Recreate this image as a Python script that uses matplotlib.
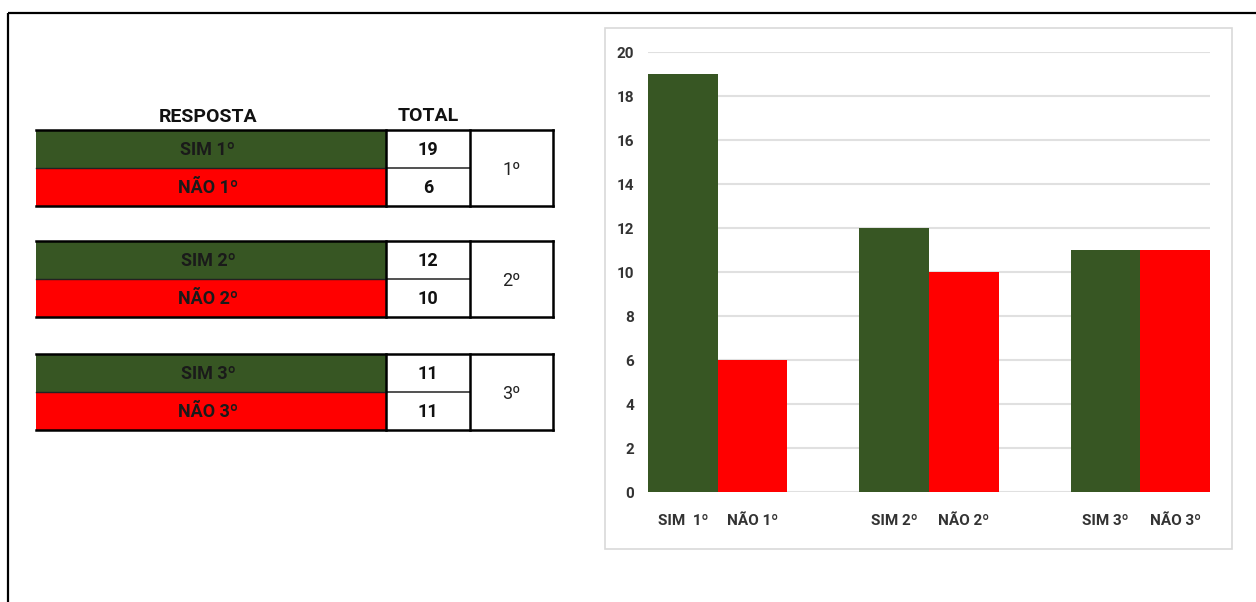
import matplotlib
matplotlib.use("Agg")
import matplotlib.pyplot as plt
from matplotlib.patches import Rectangle
import numpy as np

# Data
respostas = ["SIM  1º", "NÃO 1º", "SIM 2º", "NÃO 2º", "SIM 3º", "NÃO 3º"]
totais = [19, 6, 12, 10, 11, 11]
grupos = ["1º", "2º", "3º"]
sim = [19, 12, 11]
nao = [6, 10, 11]

GREEN = "#375623"
RED = "#ff0000"
FONT = ["Roboto", "DejaVu Sans"]

W, H = 1256, 602
fig = plt.figure(figsize=(W / 100, H / 100), dpi=100)

# Full-figure pixel axes for the table and frames
bg = fig.add_axes([0, 0, 1, 1])
bg.set_xlim(0, W)
bg.set_ylim(H, 0)
bg.axis("off")

# Outer border (top and left visible)
bg.plot([8, W], [13, 13], color="black", lw=1.6, solid_capstyle="butt")
bg.plot([8, 8], [13, H], color="black", lw=1.6, solid_capstyle="butt")

# Chart frame
bg.add_patch(Rectangle((605, 28), 627, 521, fill=False, ec="#d9d9d9", lw=1.2))

# Table
x0, x1, x2, x3 = 36, 386, 470, 553
tops = [130, 241, 354]
rh = 38
bg.text((x0 + x1) / 2 - 3, 117, "RESPOSTA", ha="center", va="center",
        fontsize=14, fontweight="bold", family=FONT, color="#111111")
bg.text((x1 + x2) / 2, 116, "TOTAL", ha="center", va="center",
        fontsize=14, fontweight="bold", family=FONT, color="#111111")

for g, top in enumerate(tops):
    for r in range(2):
        i = g * 2 + r
        y = top + r * rh
        bg.add_patch(Rectangle((x0, y), x1 - x0, rh,
                               fc=GREEN if r == 0 else RED, ec="none"))
        bg.text((x0 + x1) / 2 - 3, y + rh / 2 + 1, respostas[i].replace("  ", " "),
                ha="center", va="center", fontsize=13, fontweight="bold",
                family=FONT, color="#1a1a1a")
        bg.add_patch(Rectangle((x1, y), x2 - x1, rh, fc="white", ec="none"))
        bg.text((x1 + x2) / 2, y + rh / 2 + 1, str(totais[i]),
                ha="center", va="center", fontsize=13, fontweight="bold",
                family=FONT, color="#111111")
    # lines
    bot = top + 2 * rh
    bg.plot([x0, x3], [top, top], color="black", lw=1.8)
    bg.plot([x0, x3], [bot, bot], color="black", lw=1.8)
    bg.plot([x0, x1], [top + rh, top + rh], color="#222222", lw=1.0)
    bg.plot([x1, x2], [top + rh, top + rh], color="#333333", lw=1.2)
    for xx in (x1, x2, x3):
        bg.plot([xx, xx], [top, bot], color="black", lw=1.8)
    bg.text((x2 + x3) / 2, top + rh + 2, grupos[g], ha="center", va="center",
            fontsize=13, family=FONT, color="#222222")

# Bar chart
ax = fig.add_axes([648 / W, 1 - 492 / H, 562 / W, 440 / H])
pos = np.arange(len(grupos))
w = 0.33
ax.bar(pos - w / 2, sim, width=w, color=GREEN, zorder=3)
ax.bar(pos + w / 2, nao, width=w, color=RED, zorder=3)
ax.set_xlim(-w, len(grupos) - 1 + w)
ax.set_ylim(0, 20)
ax.set_yticks(np.arange(0, 21, 2))
ax.grid(axis="y", color="#e0e0e0", lw=1.5, zorder=0)
for s in ax.spines.values():
    s.set_visible(False)
xt = np.ravel(np.column_stack([pos - w / 2, pos + w / 2]))
ax.set_xticks(xt)
ax.set_xticklabels(respostas)
ax.tick_params(axis="both", length=0)
ax.tick_params(axis="y", pad=10)
ax.tick_params(axis="x", pad=16)
for lbl in ax.get_xticklabels() + ax.get_yticklabels():
    lbl.set_family(FONT)
    lbl.set_fontweight("bold")
    lbl.set_fontsize(11)
    lbl.set_color("#333333")

fig.savefig("out.png", dpi=100)
